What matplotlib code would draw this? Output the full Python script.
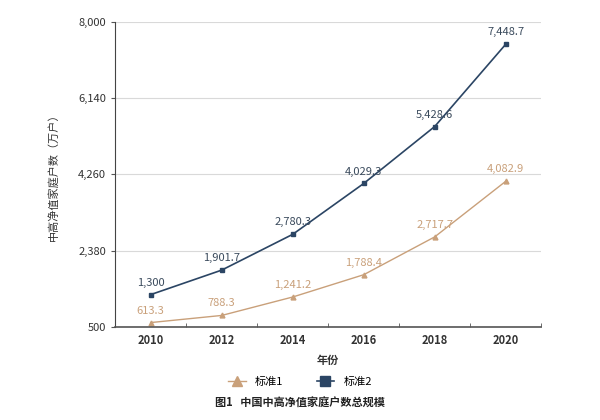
import matplotlib
matplotlib.use("Agg")
import matplotlib.pyplot as plt
import numpy as np

plt.rcParams['font.family'] = ['Noto Sans CJK SC', 'DejaVu Sans']

years = ['2010', '2012', '2014', '2016', '2018', '2020']
std1 = [613.3, 788.3, 1241.2, 1788.4, 2717.7, 4082.9]
std2 = [1300, 1901.7, 2780.3, 4029.3, 5428.6, 7448.7]
yticks = [500, 2380, 4260, 6140, 8000]

c1 = '#c9a07a'
c2 = '#2b4564'

fig = plt.figure(figsize=(6, 4.2), dpi=100)
ax = fig.add_axes([0.192, 0.221, 0.71, 0.727])

x = np.arange(len(years))
ax.plot(x, std1, color=c1, lw=1.0, marker='^', ms=3.5, label='标准1')
ax.plot(x, std2, color=c2, lw=1.2, marker='s', ms=3.5, label='标准2')

for xi, v in zip(x, std1):
    ax.annotate(f'{v:,.1f}', (xi, v), xytext=(0, 5), textcoords='offset points',
                ha='center', va='bottom', fontsize=8, color=c1)
for xi, v in zip(x, std2):
    s = f'{v:,.0f}' if v == int(v) else f'{v:,.1f}'
    ax.annotate(s, (xi, v), xytext=(0, 5), textcoords='offset points',
                ha='center', va='bottom', fontsize=8, color='#3a4a5c')

ax.set_xlim(-0.5, len(years) - 0.5)
ax.set_ylim(500, 8000)
ax.set_yticks(yticks)
ax.set_yticklabels([f'{t:,}' for t in yticks], fontsize=8, color='#333333')
ax.set_xticks(x)
ax.set_xticklabels(years, fontsize=8, color='#333333', fontweight='bold')
ax.set_xticks(np.arange(-0.5, len(years), 1), minor=True)
ax.tick_params(axis='x', which='major', length=0, pad=5)
ax.tick_params(axis='x', which='minor', length=3, direction='in', color='#555555')
ax.tick_params(axis='y', length=3, color='#555555')

ax.grid(axis='y', color='#d9d9d9', lw=0.8)
ax.set_axisbelow(True)
for s in ['top', 'right']:
    ax.spines[s].set_visible(False)
ax.spines['left'].set_color('#444444')
ax.spines['bottom'].set_color('#555555')
ax.spines['bottom'].set_linewidth(1.2)

ax.set_xlabel('年份', fontsize=8, color='#333333', labelpad=5, fontweight='bold')
ax.set_ylabel('中高净值家庭户数（万户）', fontsize=8, color='#333333', labelpad=14)

fig.legend(loc='center', bbox_to_anchor=(0.5, 0.09), ncol=2, frameon=False,
           fontsize=8, handlelength=1.6, columnspacing=3, markerscale=2)
fig.text(0.5, 0.04, '图1   中国中高净值家庭户数总规模', ha='center', va='center',
         fontsize=8, color='#222222', fontweight='bold')

fig.savefig('out.png', dpi=100)
